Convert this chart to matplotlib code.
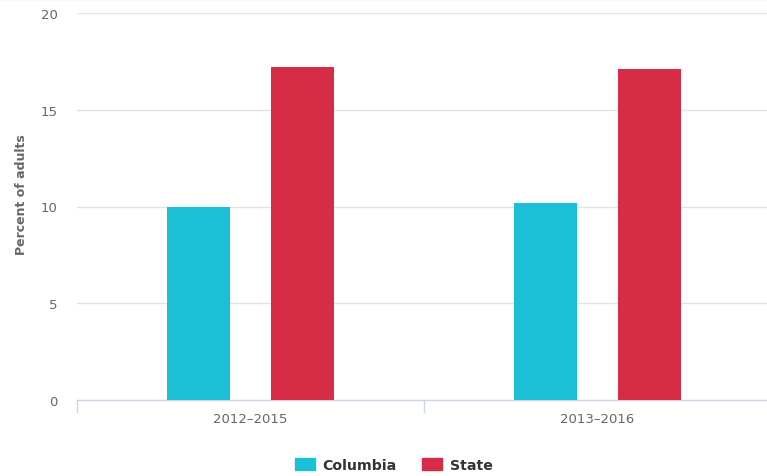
import matplotlib.pyplot as plt
from matplotlib.patches import Patch
from matplotlib.lines import Line2D
import numpy as np

# values per period
periods = ["2012–2015", "2013–2016"]
columbia = [10.0, 10.2]
state = [17.2, 17.1]

COL_COLUMBIA = "#1bbfd6"
COL_STATE = "#d62c45"

plt.rcParams["font.family"] = ["DejaVu Sans"]

fig = plt.figure(figsize=(7.67, 4.77), dpi=100)
ax = fig.add_axes([77 / 767, 76 / 477, 694 / 767, 387 / 477])

x = np.arange(len(periods))
w = 0.18
off = 0.15
ax.bar(x - off, columbia, w, color=COL_COLUMBIA, zorder=3)
ax.bar(x + off, state, w, color=COL_STATE, zorder=3)

ax.set_xlim(-0.5, len(periods) - 0.5)
ax.set_ylim(0, 20)
ax.set_yticks([0, 5, 10, 15, 20])
ax.grid(axis="y", color="#e3e3e3", linewidth=1, zorder=0)

for s in ["top", "right", "left"]:
    ax.spines[s].set_visible(False)
ax.spines["bottom"].set_color("#ccd6eb")
ax.spines["bottom"].set_linewidth(1)

ax.set_xticks(x)
ax.set_xticklabels(periods)
ax.set_xticks(np.arange(len(periods) + 1) - 0.5, minor=True)
ax.tick_params(axis="x", which="major", length=0, pad=8.5, labelsize=9.5, colors="#666666")
ax.tick_params(axis="x", which="minor", length=9, color="#ccd6eb", width=1)
ax.tick_params(axis="y", length=0, pad=14, labelsize=9.5, colors="#666666")

ax.set_ylabel("Percent of adults", fontsize=9, fontweight="bold", color="#666666")
ax.yaxis.set_label_coords(-0.071, 0.534)

handles = [Patch(color=COL_COLUMBIA, label="Columbia"), Patch(color=COL_STATE, label="State")]
leg = fig.legend(handles=handles, loc="center", bbox_to_anchor=(394 / 767, 1 - 466 / 477),
                 ncol=2, frameon=False, handlelength=1.38, handleheight=0.97,
                 handletextpad=0.55, columnspacing=1.8,
                 prop={"size": 10.2, "weight": "bold"})
for t in leg.get_texts():
    t.set_color("#333333")

# faint rule along the top edge
fig.add_artist(Line2D([0, 1], [0.999, 0.999], transform=fig.transFigure,
                      color="#e3e3e3", linewidth=1))

fig.savefig("out.png", dpi=100)
